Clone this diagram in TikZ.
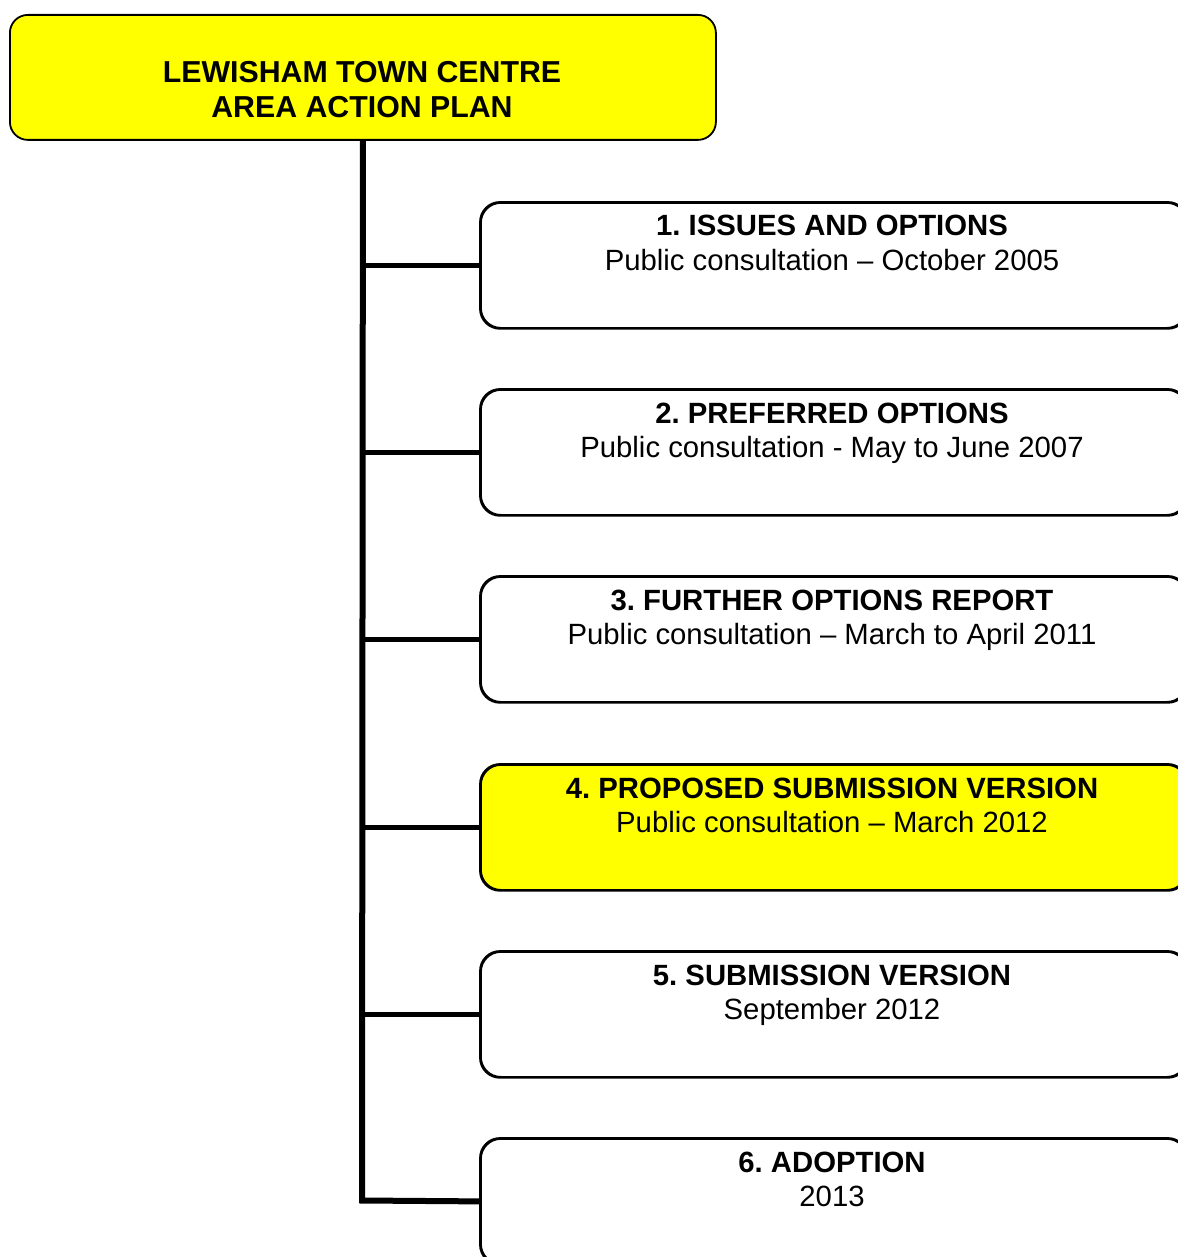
\documentclass[tikz,border=0pt]{standalone}
\usepackage{fontspec}
\setmainfont{Liberation Sans}
\frenchspacing
\definecolor{hiyellow}{RGB}{255,255,0}
\tikzset{
  stagebox/.style={draw=black, line width=1.8pt, rounded corners=20pt, fill=white,
    minimum width=706pt, minimum height=125pt, inner sep=0pt, anchor=north west},
  hibox/.style={stagebox, fill=hiyellow},
  headbox/.style={draw=black, line width=1.8pt, rounded corners=18pt, fill=hiyellow,
    minimum width=706pt, minimum height=125pt, inner sep=0pt, anchor=north west},
  headtext/.style={inner sep=0pt, anchor=base, font=\fontsize{30.3}{35}\selectfont\bfseries},
  stagetitle/.style={inner sep=0pt, anchor=base, font=\fontsize{29.3}{34}\selectfont\bfseries},
  stagesub/.style={inner sep=0pt, anchor=base, font=\fontsize{29.3}{34}\selectfont},
  trunk/.style={line width=6pt, line join=miter, line cap=butt},
  branch/.style={line width=5.5pt, line cap=butt},
  outline/.style={line width=1.8pt, rounded corners=20pt}
}
\begin{document}
\begin{tikzpicture}[x=1pt, y=-1pt]
\useasboundingbox (0,0) rectangle (1177,1257);
% header
\node[headbox] (top) at (9,14) {};
\node[headtext] (h1) at (362,83) {LEWISHAM TOWN CENTRE};
\node[headtext] (h2) at (362,118) {AREA ACTION PLAN};
% stage boxes
\node[stagebox] (b1) at (480,202) {};
\node[stagebox] (b2) at (480,389) {};
\node[stagebox] (b3) at (480,576) {};
\node[hibox]    (b4) at (480,764) {};
\node[stagebox] (b5) at (480,951) {};
\node[stagebox] (b6) at (480,1138) {};
% connectors
\coordinate (trunkend) at (362,1200.5);
\draw[trunk] (top.south) -- (trunkend) -- (b6.west);
\foreach \b in {b1,b2,b3,b4,b5}{
  \draw[branch] (top.south |- \b.west) -- (\b.west);
}
% redraw box outlines over connector ends
\foreach \b in {b1,b2,b3,b4,b5,b6}{
  \draw[outline] (\b.north west) rectangle (\b.south east);
}
% texts
\node[stagetitle] (t1) at (832,236) {1. ISSUES AND OPTIONS};
\node[stagesub]   (s1) at (832,270) {Public consultation – October 2005};
\node[stagetitle] (t2) at (832,423) {2. PREFERRED OPTIONS};
\node[stagesub]   (s2) at (832,457) {Public consultation - May to June 2007};
\node[stagetitle] (t3) at (832,610) {3. FURTHER OPTIONS REPORT};
\node[stagesub]   (s3) at (832,644) {Public consultation – March to April 2011};
\node[stagetitle] (t4) at (832,798) {4. PROPOSED SUBMISSION VERSION};
\node[stagesub]   (s4) at (832,832) {Public consultation – March 2012};
\node[stagetitle] (t5) at (832,985) {5. SUBMISSION VERSION};
\node[stagesub]   (s5) at (832,1019) {September 2012};
\node[stagetitle] (t6) at (832,1172) {6. ADOPTION};
\node[stagesub]   (s6) at (832,1206) {2013};
\end{tikzpicture}
\end{document}
